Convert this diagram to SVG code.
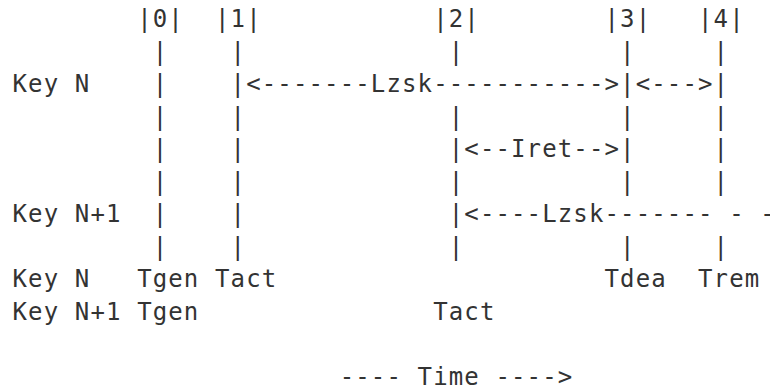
<svg xmlns="http://www.w3.org/2000/svg" width="770" height="389" viewBox="0 0 770 389">
<style>
text{font-family:"DejaVu Sans Mono","Liberation Mono",monospace;font-size:24px;letter-spacing:1.13px;fill:#333;white-space:pre}
</style>
<rect width="770" height="389" fill="#fff"/>
<g id="timeline-headers">
<text x="12.5" y="27" xml:space="preserve">        |0|  |1|           |2|        |3|   |4|</text>
</g>
<g id="connectors">
<text x="12.5" y="59.5" xml:space="preserve">         |    |             |          |     |</text>
<text x="12.5" y="92" xml:space="preserve">Key N    |    |&lt;-------Lzsk-----------&gt;|&lt;---&gt;|</text>
<text x="12.5" y="124.5" xml:space="preserve">         |    |             |          |     |</text>
<text x="12.5" y="157" xml:space="preserve">         |    |             |&lt;--Iret--&gt;|     |</text>
<text x="12.5" y="189.5" xml:space="preserve">         |    |             |          |     |</text>
<text x="12.5" y="222" xml:space="preserve">Key N+1  |    |             |&lt;----Lzsk------- - -</text>
<text x="12.5" y="254.5" xml:space="preserve">         |    |             |          |     |</text>
</g>
<g id="event-labels">
<text x="12.5" y="287" xml:space="preserve">Key N   Tgen Tact                     Tdea  Trem</text>
<text x="12.5" y="319.5" xml:space="preserve">Key N+1 Tgen               Tact</text>
</g>
<g id="time-axis">
<text x="12.5" y="384.5" xml:space="preserve">                     ---- Time ----&gt;</text>
</g>
</svg>
